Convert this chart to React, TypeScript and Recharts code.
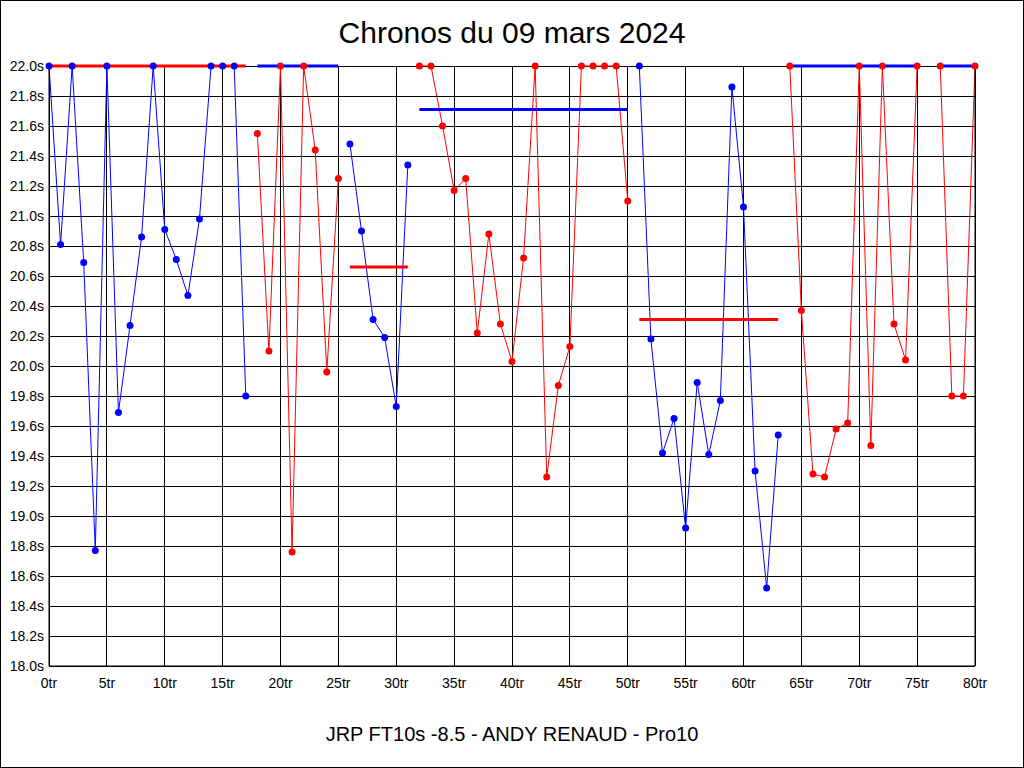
import React from 'react';
import { LineChart, Line, XAxis, YAxis, CartesianGrid } from 'recharts';

// lap times in seconds, one per lap (0tr .. 80tr); null = no time recorded
const lapTimes: (number | null)[] = [
  22.0, 20.81, 22.0, 20.69, 18.77, 22.0, 19.69, 20.27, 20.86, 22.0, 20.91, 20.71, 20.47, 20.98, 22.0, 22.0, 22.0, 19.8,
  21.55, 20.1, 22.0, 18.76, 22.0, 21.44, 19.96, 21.25,
  21.48, 20.9, 20.31, 20.19, 19.73, 21.34,
  22.0, 22.0, 21.6, 21.17, 21.25, 20.22, 20.88, 20.28, 20.03, 20.72, 22.0, 19.26, 19.87, 20.13, 22.0, 22.0, 22.0, 22.0, 21.1,
  22.0, 20.18, 19.42, 19.65, 18.92, 19.89, 19.41, 19.77, 21.86, 21.06, 19.3, 18.52, 19.54,
  22.0, 20.37, 19.28, 19.26, 19.58, 19.62, 22.0, 19.47, 22.0, 20.28, 20.04, 22.0, null, 22.0, 19.8, 19.8, 22.0,
];

// stints: first and last lap, and the average drawn over it
const stintStart = [0, 18, 26, 32, 51, 64];
const stintEnd = [17, 25, 31, 50, 63, 80];
const stintAvg = [22.0, 22.0, 20.66, 21.71, 20.31, 22.0];

const xTicks = [0, 5, 10, 15, 20, 25, 30, 35, 40, 45, 50, 55, 60, 65, 70, 75, 80];
const yTicks = [18.0, 18.2, 18.4, 18.6, 18.8, 19.0, 19.2, 19.4, 19.6, 19.8, 20.0, 20.2, 20.4, 20.6, 20.8, 21.0, 21.2, 21.4, 21.6, 21.8, 22.0];

const BLUE = '#0000ff';
const RED = '#ff0000';
const FONT = '"Liberation Sans", Arial, sans-serif';

const data = lapTimes.map((t, lap) => {
  const row: Record<string, number | null> = { lap };
  stintStart.forEach((s, k) => {
    const inStint = lap >= s && lap <= stintEnd[k];
    row[`s${k}`] = inStint ? t : null;
    row[`a${k}`] = inStint && t !== null ? stintAvg[k] : null;
  });
  return row;
});

const tickStyle = { fill: '#000', fontSize: 14, fontFamily: FONT };

export default function App() {
  const stints = stintStart.map((_, k) => k);
  return (
    <div
      style={{
        position: 'absolute',
        left: 0,
        top: 0,
        width: 1024,
        height: 768,
        border: '1px solid #000',
        boxSizing: 'border-box',
        background: '#fff',
        fontFamily: FONT,
      }}
    >
      <div style={{ position: 'absolute', top: 14, width: '100%', textAlign: 'center', fontSize: 30, lineHeight: '36px' }}>
        Chronos du 09 mars 2024
      </div>
      <div style={{ position: 'absolute', top: -1, left: -1 }}>
        <LineChart width={1024} height={768} data={data} margin={{ top: 66, right: 0, bottom: 0, left: 0 }}>
          <CartesianGrid yAxisId="left" stroke="#000" strokeWidth={1} shapeRendering="crispEdges" />
          <XAxis
            dataKey="lap"
            type="number"
            domain={[0, 80]}
            ticks={xTicks}
            height={102}
            tickLine={false}
            tickSize={0}
            axisLine={{ stroke: '#000' }}
            tickMargin={12}
            tick={tickStyle}
            tickFormatter={(v) => `${v}tr`}
          />
          <YAxis
            yAxisId="left"
            type="number"
            domain={[18, 22]}
            ticks={yTicks}
            width={49}
            tickLine={false}
            tickSize={0}
            axisLine={{ stroke: '#000' }}
            tickMargin={5}
            tick={tickStyle}
            interval={0}
            tickFormatter={(v) => `${v.toFixed(1)}s`}
          />
          <YAxis
            yAxisId="right"
            orientation="right"
            type="number"
            domain={[18, 22]}
            ticks={yTicks}
            width={49}
            tickLine={false}
            tickSize={0}
            axisLine={{ stroke: '#000' }}
            tickMargin={3}
            tick={tickStyle}
            interval={0}
            tickFormatter={(v) => `${v.toFixed(1)}s`}
          />
          {stints.map((k) => (
            <Line
              key={`line${k}`}
              yAxisId="left"
              dataKey={`s${k}`}
              stroke={k % 2 === 0 ? BLUE : RED}
              strokeWidth={1}
              dot={false}
              isAnimationActive={false}
            />
          ))}
          {stints.map((k) => (
            <Line
              key={`avg${k}`}
              yAxisId="left"
              dataKey={`a${k}`}
              stroke={k % 2 === 0 ? RED : BLUE}
              strokeWidth={3}
              dot={false}
              isAnimationActive={false}
            />
          ))}
          {stints.map((k) => (
            <Line
              key={`dots${k}`}
              yAxisId="left"
              dataKey={`s${k}`}
              stroke="none"
              dot={{ r: 3.5, fill: k % 2 === 0 ? BLUE : RED, stroke: 'none' }}
              isAnimationActive={false}
            />
          ))}
        </LineChart>
      </div>
      <div style={{ position: 'absolute', top: 721, width: '100%', textAlign: 'center', fontSize: 20, lineHeight: '24px' }}>
        JRP FT10s -8.5 - ANDY RENAUD - Pro10
      </div>
    </div>
  );
}
